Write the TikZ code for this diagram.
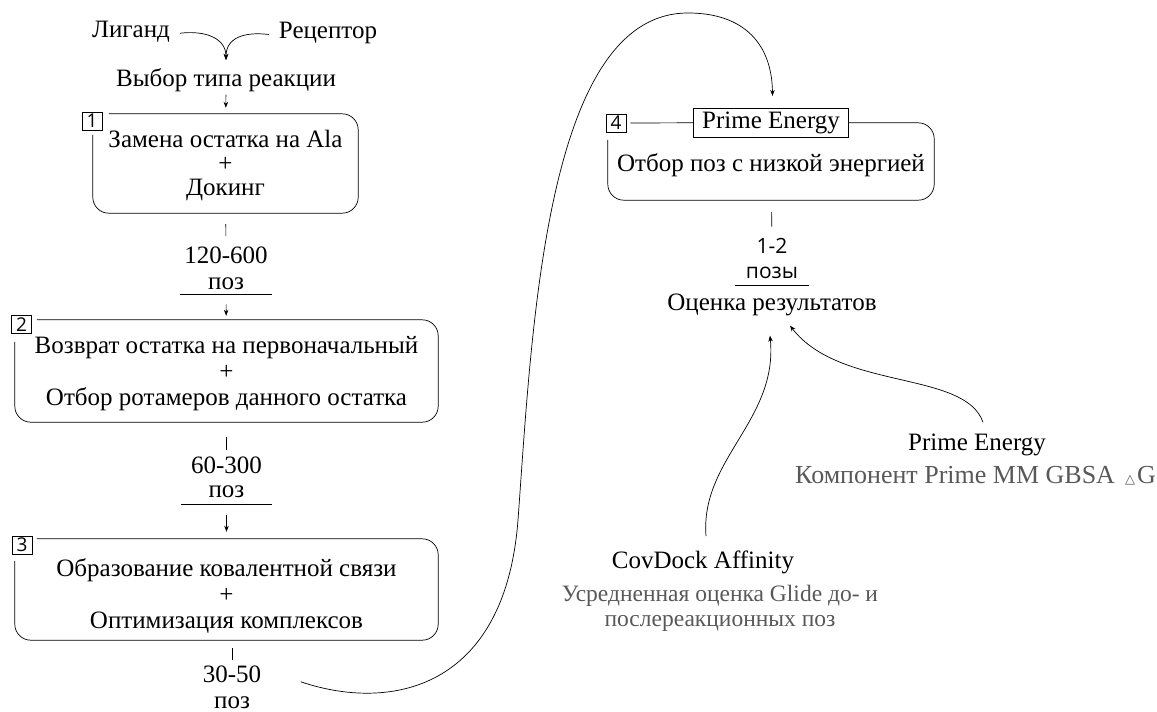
\documentclass[tikz,border=0pt]{standalone}
\usepackage{fontspec}
\setmainfont{Liberation Serif}
\newfontfamily\numfont{Open Sans}
\newfontfamily\trifont{DejaVu Sans}
\usetikzlibrary{arrows.meta,positioning}
\definecolor{notegrey}{RGB}{88,88,88}

\begin{document}
\begin{tikzpicture}[x=1pt,y=-1pt,
  txt/.style={inner sep=0pt,font=\fontsize{25}{24}\selectfont},
  note/.style={inner sep=0pt,text=notegrey,align=center,font=\fontsize{23.5}{25}\selectfont},
  stepbox/.style={inner sep=0pt,align=center,minimum width=#1,text depth=0pt},
  numbox/.style={draw,line width=0.7pt,inner sep=0pt,minimum width=20pt,minimum height=18pt,font=\numfont\fontsize{19}{19}\selectfont},
  sanstxt/.style={inner sep=0pt,font=\numfont\fontsize{21}{21}\selectfont},
  frame/.style={line width=0.7pt,rounded corners=16pt},
  link/.style={line width=0.7pt},
  arr/.style={link,-{Stealth[length=6pt,width=4.5pt]}},
]
\useasboundingbox (0,0) rectangle (1157,712);

% входные данные
\node[txt,anchor=base] (lig) at (131,37) {Лиганд};
\node[txt,anchor=base] (rec) at (328,38) {Рецептор};
\node[txt,anchor=base] (vybor) at (226,86) {Выбор типа реакции};
\coordinate (meet) at (226,60);
\draw[arr] ([shift={(10,2)}]lig.east) .. controls +(25,-3) and +(0,-22) .. (meet);
\draw[arr] ([shift={(-10,2)}]rec.west) .. controls +(-25,-3) and +(0,-22) .. (meet);

% этап 1
\node[stepbox=265pt,minimum height=99pt,text height=63pt,font=\fontsize{25}{24}\selectfont] (b1) at (225.5,163.5) {Замена остатка на Ala\\+\\Докинг};
\node[numbox] (n1) at (92,121) {1};
\draw[frame] ([yshift=-21pt]b1.north west) -- (b1.south west) -- (b1.south east) -- (b1.north east) -- ([xshift=16pt]b1.north west);
\draw[arr,shorten <=3pt,shorten >=6pt] (vybor) -- (b1);

\node[txt,anchor=base] (c1) at (226,263) {120-600};
\node[txt,anchor=base,minimum width=91pt] (u1) at (226,289) {поз};
\draw[link,shorten <=11pt,shorten >=10pt] (b1) -- (c1);
\draw[link] ([yshift=-5pt]u1.south west) -- ([yshift=-5pt]u1.south east);

% этап 2
\node[stepbox=423pt,minimum height=102pt,text height=68pt,font=\fontsize{25}{26}\selectfont] (b2) at (226.5,371) {Возврат остатка на первоначальный\\+\\Отбор ротамеров данного остатка};
\node[numbox] (n2) at (21.5,324.5) {2};
\draw[frame] ([yshift=-22pt]b2.north west) -- (b2.south west) -- (b2.south east) -- (b2.north east) -- ([xshift=22pt]b2.north west);
\draw[arr,shorten <=15pt,shorten >=4pt] (u1) -- (b2);

\node[txt,anchor=base] (c2) at (226.5,473) {60-300};
\node[txt,anchor=base,minimum width=91pt] (u2) at (226.5,497) {поз};
\draw[link,shorten <=15pt,shorten >=6pt] (b2) -- (c2);
\draw[link] ([yshift=-7pt]u2.south west) -- ([yshift=-7pt]u2.south east);

% этап 3
\node[stepbox=423pt,minimum height=101pt,text height=77pt,font=\fontsize{25}{26}\selectfont] (b3) at (226.5,589.5) {Образование ковалентной связи\\+\\Оптимизация комплексов};
\node[numbox] (n3) at (22,545) {3};
\draw[frame] ([yshift=-22pt]b3.north west) -- (b3.south west) -- (b3.south east) -- (b3.north east) -- ([xshift=22pt]b3.north west);
\draw[arr,shorten <=18pt,shorten >=7pt] (u2) -- (b3);

\node[txt,anchor=base] (c3) at (232,682) {30-50};
\node[txt,anchor=base] (u3) at (232,708) {поз};
\draw[link,shorten <=8pt,shorten >=5pt] (c3.north |- b3.south) -- (c3.north);

% этап 4
\node[stepbox=326pt,minimum height=77pt,text height=19pt,font=\fontsize{25}{24}\selectfont] (b4) at (771,161.5) {Отбор поз с низкой энергией};
\node[txt,draw,line width=0.7pt,minimum width=155pt,minimum height=29pt] (pe) at (b4.north) {Prime Energy};
\node[numbox] (n4) at (616,123) {4};
\draw[frame,shorten <=4pt] (n4.east) -- (pe.west);
\draw[frame] (pe.east) -- (b4.north east) -- (b4.south east) -- (b4.south west) -- ([yshift=-17pt]b4.north west);

\draw[arr] ([shift={(39.5,8)}]c3.east) .. controls (390,712) and (505,690) .. (518,520)
  .. controls (532,330) and (545,13) .. (688,13)
  .. controls (745,13) and (772,45) .. ([shift={(1.5,-12)}]pe.north);

\node[sanstxt,anchor=base] (c4) at (772,253) {1-2};
\node[sanstxt,anchor=base,minimum width=74pt] (u4) at (772,278) {позы};
\draw[link,shorten <=12pt,shorten >=11pt] (b4) -- (c4);
\draw[link] ([yshift=-7pt]u4.south west) -- ([yshift=-7pt]u4.south east);
\node[txt,anchor=base] (ocenka) at (772,310) {Оценка результатов};

% оценки
\node[txt,anchor=base] (cov) at (703,568) {CovDock Affinity};
\node[note,anchor=north] (covd) at (720,585) {Усредненная оценка Glide до- и\\послереакционных поз};
\node[txt,anchor=base] (pen) at (977,450) {Prime Energy};
\node[note,anchor=base east,font=\fontsize{26}{26}\selectfont] (pend) at (1156,483) {Компонент Prime MM GBSA\hspace{10pt}{\trifont\fontsize{13}{13}\selectfont △}\hspace{2pt}G};

\draw[arr] ([shift={(3,-14)}]cov.north) .. controls +(-6,-77) and +(8,85) .. ([shift={(-2,20)}]ocenka.south);
\draw[arr] ([shift={(6,-11)}]pen.north) .. controls +(-18,-52) and +(50,65) .. ([shift={(18,10)}]ocenka.south);

\end{tikzpicture}
\end{document}
